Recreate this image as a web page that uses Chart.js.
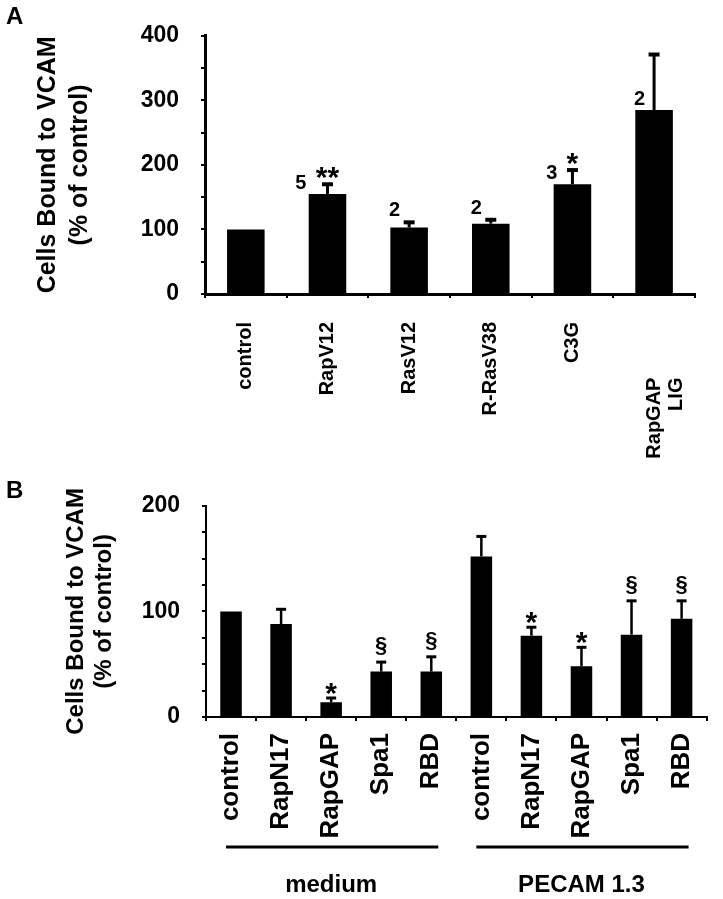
<!DOCTYPE html>
<html><head><meta charset="utf-8">
<script src="https://cdn.jsdelivr.net/npm/chart.js@4.4.1/dist/chart.umd.min.js"></script>
<style>
html,body{margin:0;padding:0;background:#fff;width:723px;height:899px;overflow:hidden}
#wrap{position:relative;width:723px;height:899px}
canvas{position:absolute;left:0}
#ca{top:0}
#cb{top:470px}
.pl{position:absolute;font:bold 24px 'Liberation Sans',Arial,sans-serif;color:#000;line-height:1}
</style></head><body>
<div id="wrap">
<canvas id="ca" width="723" height="470"></canvas>
<canvas id="cb" width="723" height="429"></canvas>
<div class="pl" style="left:6px;top:4px">A</div>
<div class="pl" style="left:6px;top:478px">B</div>
</div>
<script>
// ---- Panel A data ----
const catsA = ['control', 'RapV12', 'RasV12', 'R-RasV38', 'C3G', ['RapGAP          ', 'LIG          ']];
const valsA = [100, 155, 103, 109, 170, 285];
const errA = [0, 15, 8, 6, 22, 86];
const nA = ['', '5', '2', '2', '3', '2'];
const sigA = ['', '**', '', '', '*', ''];
const tickLabelsA = [0, 100, 200, 300, 400];

// ---- Panel B data ----
const catsB = ['control', 'RapN17', 'RapGAP', 'Spa1', 'RBD', 'control', 'RapN17', 'RapGAP', 'Spa1', 'RBD'];
const valsB = [100, 88, 14, 43, 43, 152, 77, 48, 78, 93];
const errB = [0, 14, 4, 9, 14, 19, 8, 18, 32, 17];
const sigB = ['', '', '*', '§', '§', '', '*', '*', '§', '§'];
const groupNamesB = ['medium', 'PECAM 1.3'];
const groupRangesB = [[0, 4], [5, 9]];
const tickLabelsB = [0, 100, 200];

const yTitle = ['Cells Bound to VCAM', '(% of control)'];
const F = "'Liberation Sans', Arial, Helvetica, sans-serif";

const errPlugin = {
  id: 'errbars',
  afterDatasetsDraw(chart, args, o) {
    const ctx = chart.ctx, x = chart.scales.x, y = chart.scales.y;
    const vals = chart.data.datasets[0].data;
    ctx.save();
    ctx.strokeStyle = '#000'; ctx.fillStyle = '#000';
    vals.forEach((v, i) => {
      const cx = x.getPixelForValue(i);
      const yb = y.getPixelForValue(v);
      const e = o.err[i];
      const yt = y.getPixelForValue(v + e);
      if (e) {
        ctx.lineWidth = o.lw;
        ctx.beginPath(); ctx.moveTo(cx, yb); ctx.lineTo(cx, yt); ctx.stroke();
        ctx.lineWidth = o.capW;
        ctx.beginPath(); ctx.moveTo(cx - o.cap / 2, yt); ctx.lineTo(cx + o.cap / 2, yt); ctx.stroke();
      }
      const s = o.sig[i];
      if (s) {
        if (s.indexOf('*') >= 0) {
          ctx.font = 'bold ' + o.starSize + 'px ' + F;
          ctx.textAlign = 'center'; ctx.textBaseline = 'alphabetic';
          ctx.fillText(s, cx, yt + o.starDy);
        } else {
          ctx.font = 'bold ' + o.secSize + 'px ' + F;
          ctx.textAlign = 'center'; ctx.textBaseline = 'alphabetic';
          ctx.fillText(s, cx, yt + o.secDy);
        }
      }
      if (o.n && o.n[i]) {
        ctx.font = 'bold ' + o.nSize + 'px ' + F;
        ctx.textAlign = 'right'; ctx.textBaseline = 'alphabetic';
        const dx = 9 + (s ? s.length * 6 : 0);
        const by = (yb - yt) < 8 ? yt - 6 : yb - 5;
        ctx.fillText(o.n[i], cx - dx, by);
      }
    });
    ctx.restore();
  },
  afterDraw(chart, args, o) {
    if (!o.groups) return;
    const ctx = chart.ctx, x = chart.scales.x, b = chart.chartArea.bottom;
    ctx.save();
    ctx.strokeStyle = '#000'; ctx.fillStyle = '#000'; ctx.lineWidth = 3;
    o.groups.forEach((g, k) => {
      const x1 = x.getPixelForValue(o.ranges[k][0]) - 5;
      const x2 = x.getPixelForValue(o.ranges[k][1]) + 7;
      ctx.beginPath(); ctx.moveTo(x1, b + 130); ctx.lineTo(x2, b + 130); ctx.stroke();
      ctx.font = 'bold 24px ' + F;
      ctx.textAlign = 'center'; ctx.textBaseline = 'alphabetic';
      ctx.fillText(g, (x.getPixelForValue(o.ranges[k][0]) + x.getPixelForValue(o.ranges[k][1])) / 2, b + 175);
    });
    ctx.restore();
  }
};

function makeChart(id, cats, vals, cfg) {
  return new Chart(document.getElementById(id), {
    type: 'bar',
    data: { labels: cats, datasets: [{ data: vals, backgroundColor: '#000', borderWidth: 0,
      barPercentage: cfg.barPct, categoryPercentage: 1 }] },
    plugins: [errPlugin],
    options: {
      responsive: false, animation: false, devicePixelRatio: 1,
      layout: { padding: { top: cfg.padTop, right: cfg.padRight, left: 0, bottom: 0 } },
      plugins: { legend: { display: false }, tooltip: { enabled: false }, errbars: cfg.err },
      scales: {
        x: {
          ticks: { minRotation: 90, maxRotation: 90, autoSkip: false, padding: cfg.xPad, color: '#000',
            font: { family: F, size: cfg.xFont, weight: 'bold', lineHeight: 1.1 } },
          grid: { drawOnChartArea: false, drawTicks: true, tickLength: 4, color: '#000', lineWidth: 2, offset: true },
          border: { color: '#000', width: cfg.axW },
          afterFit(s) { s.height = cfg.xH; }
        },
        y: {
          min: 0, max: cfg.max,
          ticks: { stepSize: cfg.step, autoSkip: false, padding: 22, color: '#000',
            font: { family: F, size: 23, weight: 'bold' },
            callback: v => cfg.tickLabels.includes(v) ? String(v) : '' },
          grid: { drawOnChartArea: false, drawTicks: true, tickLength: 4, color: '#000', lineWidth: 2 },
          border: { color: '#000', width: cfg.axW },
          title: { display: true, text: yTitle, color: '#000',
            font: { family: F, size: cfg.tFont, weight: 'bold', lineHeight: cfg.tLH },
            padding: { top: cfg.tPad, bottom: 0 } },
          afterFit(s) { s.width = cfg.yW; }
        }
      }
    }
  });
}

makeChart('ca', catsA, valsA, {
  barPct: 0.46, padTop: 32, padRight: 11, xPad: 24, xFont: 20, xH: 176, axW: 3,
  max: 400, step: 50, tickLabels: tickLabelsA, yW: 205, tFont: 25, tLH: 1.28, tPad: 32,
  err: { err: errA, sig: sigA, n: nA, lw: 3, capW: 4, cap: 11, starSize: 30, starDy: 3,
    secSize: 22, secDy: -10, nSize: 20 }
});

makeChart('cb', catsB, valsB, {
  barPct: 0.43, padTop: 28, padRight: 16, xPad: 12, xFont: 26, xH: 182, axW: 2,
  max: 200, step: 25, tickLabels: tickLabelsB, yW: 206, tFont: 24, tLH: 1.17, tPad: 62,
  err: { err: errB, sig: sigB, lw: 2.5, capW: 3, cap: 10, starSize: 30, starDy: 5,
    secSize: 22, secDy: -10, groups: groupNamesB, ranges: groupRangesB }
});
</script>
</body></html>
